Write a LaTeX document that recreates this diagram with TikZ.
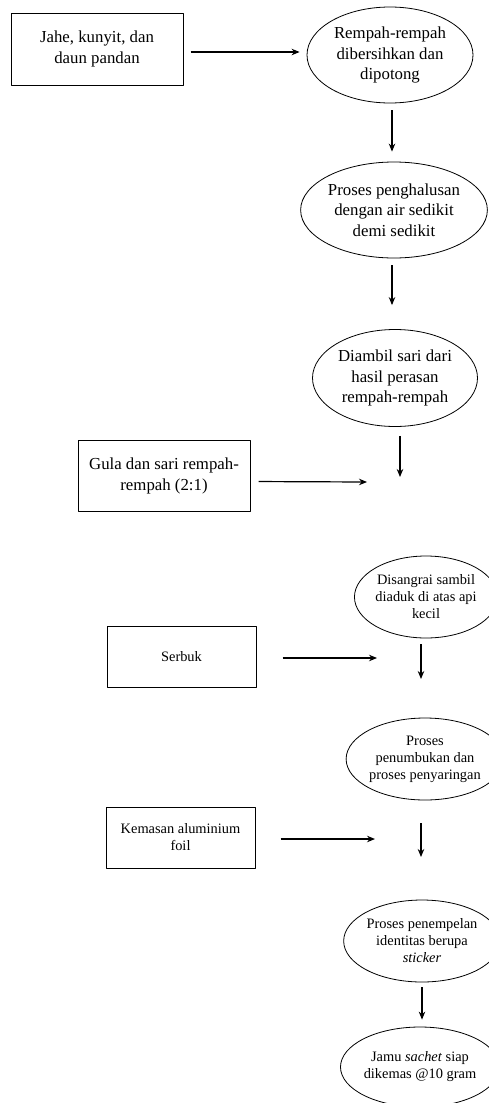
\documentclass[tikz,border=0pt]{standalone}
\usepackage{fontspec}
\setmainfont{Liberation Serif}
\usetikzlibrary{shapes.geometric,arrows.meta}
\newcommand\hurufbesar{\fontsize{16.8}{20.7}\selectfont}
\newcommand\hurufkecil{\fontsize{14.4}{17}\selectfont}

\begin{document}
\begin{tikzpicture}[x=1pt,y=-1pt,line join=round,>={Stealth[length=8pt,width=6.5pt]},
  kotak/.style={draw,line width=1pt,inner sep=0pt,align=center},
  elips/.style={draw,ellipse,line width=0.8pt,inner sep=0pt,align=center},
  panah/.style={->,line width=1.2pt}]
  \useasboundingbox (0,0) rectangle (488,1103);
  % 上半部分：原料与前处理
  \node[kotak,font=\hurufbesar,minimum width=172pt,minimum height=72pt] (jahe) at (97,49) {Jahe, kunyit, dan\\daun pandan};
  \node[elips,font=\hurufbesar,minimum width=166pt,minimum height=96pt] (bersih) at (390,55) {Rempah-rempah\\dibersihkan dan\\dipotong};
  \node[elips,font=\hurufbesar,minimum width=165pt,minimum height=96pt] (halus) at (394,210) {Proses penghalusan\\dengan air sedikit\\demi sedikit};
  \node[elips,font=\hurufbesar,minimum width=165pt,minimum height=97pt] (sari) at (395,378) {Diambil sari dari\\hasil perasan\\rempah-rempah};
  \node[kotak,font=\hurufbesar,minimum width=172pt,minimum height=71pt] (gula) at (164,476) {Gula dan sari rempah-\\rempah (2:1)};
  \coordinate (campur) at (400,477);
  \coordinate (masukgula) at (367,482);
  \draw[panah,shorten <=7pt,shorten >=7pt] ([yshift=-3pt]jahe.east) -- ([yshift=3pt]bersih.west);
  \draw[panah,shorten <=7pt,shorten >=10pt] ([xshift=2pt]bersih.south) -- ([xshift=-2pt]halus.north);
  \draw[panah,shorten <=7pt,shorten >=24pt] ([xshift=-2pt]halus.south) -- ([xshift=-3pt]sari.north);
  \draw[panah,shorten <=9pt] ([xshift=5pt]sari.south) -- (campur);
  \draw[panah,shorten <=8pt] ([yshift=-5.5pt]gula.east) -- (masukgula);
  % 下半部分：烘炒、研磨与包装
  \node[elips,font=\hurufkecil,minimum width=142pt,minimum height=82pt] (sangrai) at (426,597) {Disangrai sambil\\diaduk di atas api\\kecil};
  \node[kotak,font=\hurufkecil,minimum width=149pt,minimum height=61pt] (serbuk) at (181.5,656.5) {Serbuk};
  \coordinate (hasilserbuk) at (421,679);
  \coordinate (masukserbuk) at (377,658);
  \draw[panah,shorten <=26pt] ([yshift=-1.5pt]serbuk.east) -- (masukserbuk);
  \draw[panah,shorten <=6pt] ([xshift=-5pt]sangrai.south) -- (hasilserbuk);
  \node[elips,font=\hurufkecil,minimum width=138pt,minimum height=82pt] (tumbuk) at (425,759) {Proses\\penumbukan dan\\proses penyaringan};
  \node[kotak,font=\hurufkecil,minimum width=149pt,minimum height=61pt] (kemasan) at (180.5,837.5) {Kemasan aluminium\\foil};
  \coordinate (hasilsaring) at (421,857);
  \coordinate (masukkemasan) at (375,839);
  \draw[panah,shorten <=25pt] ([yshift=-1.5pt]kemasan.east) -- (masukkemasan);
  \draw[panah,shorten <=23pt] ([xshift=-4pt]tumbuk.south) -- (hasilsaring);
  \node[elips,font=\hurufkecil,minimum width=142pt,minimum height=82pt] (stiker) at (422,941) {Proses penempelan\\identitas berupa\\\textit{sticker}};
  \node[elips,font=\hurufkecil,minimum width=134pt,minimum height=80pt] (jamu) at (420,1067) {Jamu \textit{sachet} siap\\dikemas @10 gram};
  \draw[panah,shorten <=5pt,shorten >=7pt] (stiker.south) -- ([xshift=2pt]jamu.north);
\end{tikzpicture}
\end{document}
